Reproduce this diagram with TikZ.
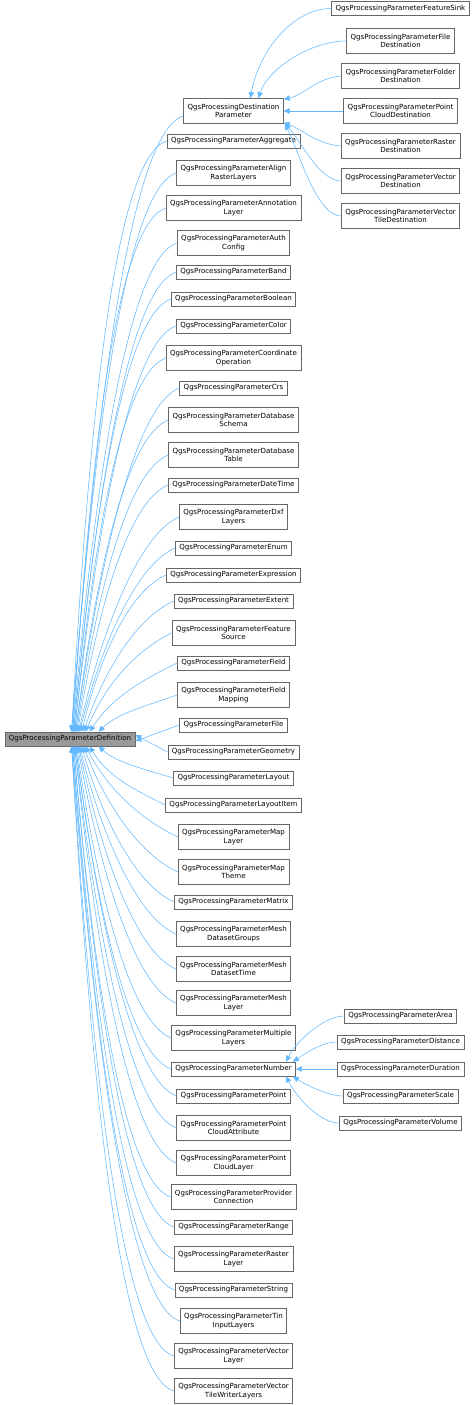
\documentclass[tikz,border=0pt]{standalone}
\usepackage{fontspec}
\setmainfont{DejaVu Sans}
\usetikzlibrary{arrows.meta,calc}
\definecolor{edgeblue}{HTML}{63B8FF}
\definecolor{boxline}{HTML}{666666}
\definecolor{rootfill}{HTML}{999999}
\tikzset{
  nd/.style={draw=boxline, fill=white, line width=0.6pt, inner xsep=4pt, inner ysep=0pt,
    minimum height=14pt, align=center, font=\fontsize{7.05}{8.4}\selectfont},
  nd2/.style={nd, minimum height=25pt},
  edge/.style={draw=edgeblue, line width=0.55pt, {Triangle[length=6pt,width=5.5pt,fill=edgeblue]}-}
}
\newcommand\inh[2]{\coordinate (s) at (#1);
  \draw[edge] let \p1=(s), \p2=(#2), \n1={abs(\y2-\y1)},
      \n2={\x2-30pt-0.04*\n1}, \n3={\y2-sign(\y2-\y1)*min(16pt,0.3*\n1)} in
    (s) .. controls ({\x1+0.4*(\n2-\x1)}, {0.5*(\y1+\y2)}) and (\n2, \n3) .. (\p2);}
\begin{document}
\begin{tikzpicture}[x=1pt,y=-1pt]
\useasboundingbox (0,0) rectangle (474,1405);
% root
\node[nd, fill=rootfill, inner xsep=4pt] (root) at (70,739) {QgsProcessingParameterDefinition};
% middle column
\def\mx{233.5}
\node[nd2] (dp) at (\mx,111) {QgsProcessingDestination\\Parameter};
\node[nd] (agg) at (\mx,141) {QgsProcessingParameterAggregate};
\node[nd2] (align) at (\mx,173) {QgsProcessingParameterAlign\\RasterLayers};
\node[nd2] (annot) at (\mx,208) {QgsProcessingParameterAnnotation\\Layer};
\node[nd2] (auth) at (\mx,243) {QgsProcessingParameterAuth\\Config};
\node[nd] (band) at (\mx,272) {QgsProcessingParameterBand};
\node[nd] (bool) at (\mx,299) {QgsProcessingParameterBoolean};
\node[nd] (color) at (\mx,326) {QgsProcessingParameterColor};
\node[nd2] (coord) at (\mx,358) {QgsProcessingParameterCoordinate\\Operation};
\node[nd] (crs) at (\mx,388) {QgsProcessingParameterCrs};
\node[nd2] (dbs) at (\mx,420) {QgsProcessingParameterDatabase\\Schema};
\node[nd2] (dbt) at (\mx,455) {QgsProcessingParameterDatabase\\Table};
\node[nd] (dt) at (\mx,485) {QgsProcessingParameterDateTime};
\node[nd2] (dxf) at (\mx,517) {QgsProcessingParameterDxf\\Layers};
\node[nd] (enum) at (\mx,548) {QgsProcessingParameterEnum};
\node[nd] (expr) at (\mx,575) {QgsProcessingParameterExpression};
\node[nd] (ext) at (\mx,601) {QgsProcessingParameterExtent};
\node[nd2] (fs) at (\mx,633) {QgsProcessingParameterFeature\\Source};
\node[nd] (field) at (\mx,663) {QgsProcessingParameterField};
\node[nd2] (fmap) at (\mx,695) {QgsProcessingParameterField\\Mapping};
\node[nd] (file) at (\mx,725) {QgsProcessingParameterFile};
\node[nd] (geom) at (\mx,752) {QgsProcessingParameterGeometry};
\node[nd] (layout) at (\mx,778) {QgsProcessingParameterLayout};
\node[nd] (litem) at (\mx,805) {QgsProcessingParameterLayoutItem};
\node[nd2] (mapl) at (\mx,837) {QgsProcessingParameterMap\\Layer};
\node[nd2] (mapt) at (\mx,872) {QgsProcessingParameterMap\\Theme};
\node[nd] (matrix) at (\mx,902) {QgsProcessingParameterMatrix};
\node[nd2] (meshdg) at (\mx,934) {QgsProcessingParameterMesh\\DatasetGroups};
\node[nd2] (meshdt) at (\mx,969) {QgsProcessingParameterMesh\\DatasetTime};
\node[nd2] (meshl) at (\mx,1003) {QgsProcessingParameterMesh\\Layer};
\node[nd2] (mult) at (\mx,1038) {QgsProcessingParameterMultiple\\Layers};
\node[nd] (num) at (\mx,1069) {QgsProcessingParameterNumber};
\node[nd] (point) at (\mx,1096) {QgsProcessingParameterPoint};
\node[nd2] (pca) at (\mx,1128) {QgsProcessingParameterPoint\\CloudAttribute};
\node[nd2] (pcl) at (\mx,1163) {QgsProcessingParameterPoint\\CloudLayer};
\node[nd2] (prov) at (\mx,1197) {QgsProcessingParameterProvider\\Connection};
\node[nd] (range) at (\mx,1227) {QgsProcessingParameterRange};
\node[nd2] (rastl) at (\mx,1259) {QgsProcessingParameterRaster\\Layer};
\node[nd] (str) at (\mx,1290) {QgsProcessingParameterString};
\node[nd2] (tin) at (\mx,1321) {QgsProcessingParameterTin\\InputLayers};
\node[nd2] (vecl) at (\mx,1356) {QgsProcessingParameterVector\\Layer};
\node[nd2] (vtw) at (\mx,1391) {QgsProcessingParameterVector\\TileWriterLayers};
% right top
\def\rx{400.5}
\node[nd] (sink) at (\rx,8.5) {QgsProcessingParameterFeatureSink};
\node[nd2] (filed) at (\rx,41) {QgsProcessingParameterFile\\Destination};
\node[nd2] (foldd) at (\rx,76) {QgsProcessingParameterFolder\\Destination};
\node[nd2] (pcd) at (\rx,111) {QgsProcessingParameterPoint\\CloudDestination};
\node[nd2] (rastd) at (\rx,146) {QgsProcessingParameterRaster\\Destination};
\node[nd2] (vecd) at (\rx,181) {QgsProcessingParameterVector\\Destination};
\node[nd2] (vtd) at (\rx,216) {QgsProcessingParameterVector\\TileDestination};
% right bottom
\node[nd] (area) at (\rx,1016) {QgsProcessingParameterArea};
\node[nd] (dist) at (\rx,1042) {QgsProcessingParameterDistance};
\node[nd] (dur) at (\rx,1069) {QgsProcessingParameterDuration};
\node[nd] (scale) at (\rx,1096) {QgsProcessingParameterScale};
\node[nd] (vol) at (\rx,1123) {QgsProcessingParameterVolume};
% edges from root (top side)
\inh{$(root.north west)+(67,0)$}{[yshift=-5pt]dp.west}
\inh{$(root.north west)+(67,0)$}{agg.west}
\inh{$(root.north west)+(67,0)$}{align.west}
\inh{$(root.north west)+(68,0)$}{annot.west}
\inh{$(root.north west)+(68,0)$}{auth.west}
\inh{$(root.north west)+(69,0)$}{band.west}
\inh{$(root.north west)+(69,0)$}{bool.west}
\inh{$(root.north west)+(70,0)$}{color.west}
\inh{$(root.north west)+(70,0)$}{coord.west}
\inh{$(root.north west)+(71,0)$}{crs.west}
\inh{$(root.north west)+(71,0)$}{dbs.west}
\inh{$(root.north west)+(72,0)$}{dbt.west}
\inh{$(root.north west)+(73,0)$}{dt.west}
\inh{$(root.north west)+(74,0)$}{dxf.west}
\inh{$(root.north west)+(75,0)$}{enum.west}
\inh{$(root.north west)+(77,0)$}{expr.west}
\inh{$(root.north west)+(79,0)$}{ext.west}
\inh{$(root.north west)+(81,0)$}{fs.west}
\inh{$(root.north west)+(85,0)$}{field.west}
\inh{$(root.north west)+(94,0)$}{fmap.west}
% east side
\draw[edge] ([yshift=-2pt]root.east) -- (file.west);
\draw[edge] ([yshift=4pt]root.east) -- (geom.west);
% bottom side
\inh{$(root.south west)+(94,0)$}{layout.west}
\inh{$(root.south west)+(85,0)$}{litem.west}
\inh{$(root.south west)+(81,0)$}{mapl.west}
\inh{$(root.south west)+(79,0)$}{mapt.west}
\inh{$(root.south west)+(77,0)$}{matrix.west}
\inh{$(root.south west)+(75,0)$}{meshdg.west}
\inh{$(root.south west)+(74,0)$}{meshdt.west}
\inh{$(root.south west)+(73,0)$}{meshl.west}
\inh{$(root.south west)+(72,0)$}{mult.west}
\inh{$(root.south west)+(71,0)$}{num.west}
\inh{$(root.south west)+(71,0)$}{point.west}
\inh{$(root.south west)+(70,0)$}{pca.west}
\inh{$(root.south west)+(70,0)$}{pcl.west}
\inh{$(root.south west)+(69,0)$}{prov.west}
\inh{$(root.south west)+(69,0)$}{range.west}
\inh{$(root.south west)+(68,0)$}{rastl.west}
\inh{$(root.south west)+(68,0)$}{str.west}
\inh{$(root.south west)+(67,0)$}{tin.west}
\inh{$(root.south west)+(67,0)$}{vecl.west}
\inh{$(root.south west)+(67,0)$}{vtw.west}
% destination parameter children
\draw[edge] ([xshift=67pt]dp.north west) .. controls +(8,-45) and +(-40,0) .. (sink.west);
\draw[edge] ([xshift=75pt]dp.north west) .. controls +(10,-30) and +(-35,0) .. (filed.west);
\draw[edge] ([yshift=-1pt]dp.north east) .. controls +(20,-4) and +(-25,2) .. (foldd.west);
\draw[edge] (dp.east) -- (pcd.west);
\draw[edge] ([yshift=1pt]dp.south east) .. controls +(18,6) and +(-25,-2) .. (rastd.west);
\draw[edge] ([xshift=1pt]dp.south east) .. controls +(14,14) and +(-22,0) .. (vecd.west);
\draw[edge] ([xshift=1pt]dp.south east) .. controls +(12,22) and +(-25,0) .. (vtd.west);
% number children
\draw[edge] ([xshift=-10pt]num.north east) .. controls +(10,-20) and +(-20,0) .. (area.west);
\draw[edge] ([xshift=-3pt]num.north east) .. controls +(12,-8) and +(-15,0) .. (dist.west);
\draw[edge] (num.east) -- (dur.west);
\draw[edge] ([xshift=-3pt]num.south east) .. controls +(12,8) and +(-15,0) .. (scale.west);
\draw[edge] ([xshift=-10pt]num.south east) .. controls +(10,20) and +(-20,0) .. (vol.west);
\end{tikzpicture}
\end{document}
